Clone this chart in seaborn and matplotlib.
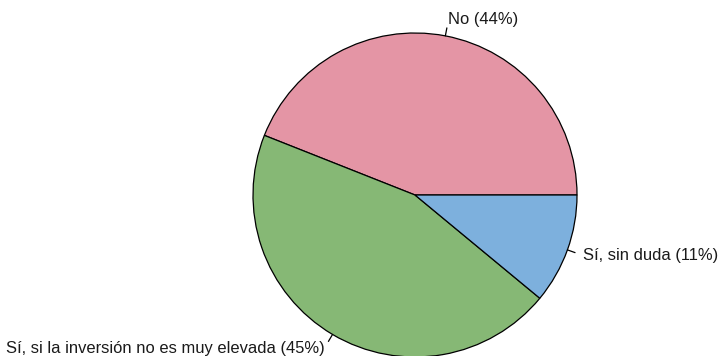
import numpy as np
import matplotlib
matplotlib.use("Agg")
import matplotlib.pyplot as plt
import seaborn as sns

labels = ["No", "Sí, si la inversión no es muy elevada", "Sí, sin duda"]
shares = [44, 45, 11]
colors = ["#E495A5", "#86B875", "#7DB0DD"]

sns.set_style("white")
plt.rcParams['font.family'] = ['Liberation Sans', 'DejaVu Sans']

W, H = 718, 356
cx, cy, r = 415, 161, 162  # centre (from bottom) and radius in px
fig = plt.figure(figsize=(W / 100, H / 100), dpi=100)
ax = fig.add_axes([0, 0, 1, 1])

texts = [f"{l} ({s}%)" for l, s in zip(labels, shares)]
wedges, _ = ax.pie(shares, colors=colors, startangle=0, counterclock=True,
                   wedgeprops=dict(edgecolor="black", linewidth=0.9),
                   radius=1)

for w, t in zip(wedges, texts):
    mid = np.deg2rad((w.theta1 + w.theta2) / 2)
    c, s = np.cos(mid), np.sin(mid)
    ax.plot([c, 1.05 * c], [s, 1.05 * s], color="black", lw=0.9)
    ax.text(1.1 * c, 1.1 * s, t, ha="left" if c > 0 else "right",
            va="center", fontsize=11.9, color="#1a1a1a")

ax.set_xlim(-cx / r, (W - cx) / r)
ax.set_ylim(-cy / r, (H - cy) / r)
ax.set_aspect("equal", adjustable="box")
ax.axis("off")

fig.savefig("out.png", dpi=100, facecolor="white")
